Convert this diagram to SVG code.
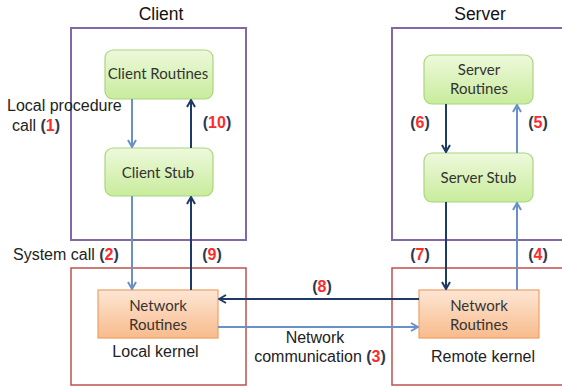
<svg xmlns="http://www.w3.org/2000/svg" width="562" height="386" viewBox="0 0 562 386">
<defs>
<linearGradient id="gGreen" x1="0" y1="0" x2="0" y2="1">
<stop offset="0" stop-color="#eef9dc"/>
<stop offset="1" stop-color="#c8ec9c"/>
</linearGradient>
<linearGradient id="gOrange" x1="0" y1="0" x2="0" y2="1">
<stop offset="0" stop-color="#fde6d4"/>
<stop offset="1" stop-color="#f8bb8c"/>
</linearGradient>
<marker id="mLight" viewBox="0 0 10 10" refX="9" refY="5" markerWidth="10" markerHeight="10" markerUnits="userSpaceOnUse" orient="auto">
<path d="M2,1 L9,5 L2,9" fill="none" stroke="#6a90c8" stroke-width="2"/>
</marker>
<marker id="mDark" viewBox="0 0 10 10" refX="9" refY="5" markerWidth="10" markerHeight="10" markerUnits="userSpaceOnUse" orient="auto">
<path d="M2,1 L9,5 L2,9" fill="none" stroke="#1f3a64" stroke-width="2"/>
</marker>
</defs>
<style>
.frame-p{fill:none;stroke:#8368a8;stroke-width:2}
.frame-r{fill:none;stroke:#c0504d;stroke-width:1.5}
.green{fill:url(#gGreen);stroke:#a8d67e;stroke-width:1.2}
.orange{fill:url(#gOrange);stroke:#eea066;stroke-width:1.2}
.ntext{font-family:Lato,"Liberation Sans",sans-serif;font-size:15px;fill:#333;text-anchor:middle}
.lbl{font-family:"Liberation Sans",Arial,sans-serif;font-size:16px;fill:#222}
.title{font-family:"Liberation Sans",Arial,sans-serif;font-size:17.5px;fill:#111;text-anchor:middle}
.p{font-weight:bold;fill:#2d3a4e}
.n{font-weight:bold;fill:#ff2a2a}
.light{stroke:#6a90c8;stroke-width:2;fill:none;marker-end:url(#mLight)}
.dark{stroke:#1f3a64;stroke-width:2;fill:none;marker-end:url(#mDark)}
</style>
<rect width="562" height="386" fill="#ffffff"/>
<g id="frames">
<rect class="frame-p" x="71" y="28" width="175" height="212"/>
<rect class="frame-p" x="392" y="28" width="180" height="212"/>
<rect class="frame-r" x="71" y="268" width="175" height="117"/>
<rect class="frame-r" x="392" y="268" width="180" height="117"/>
<text class="title" x="161" y="20">Client</text>
<text class="title" x="480" y="20">Server</text>
<text class="lbl" x="155.5" y="357" text-anchor="middle">Local kernel</text>
<text class="lbl" x="483" y="362" text-anchor="middle">Remote kernel</text>
</g>
<g id="client-routines">
<rect class="green" x="105" y="50" width="108" height="49" rx="8"/>
<text class="ntext" x="158" y="79">Client Routines</text>
</g>
<g id="client-stub">
<rect class="green" x="105" y="148" width="108" height="48" rx="8"/>
<text class="ntext" x="158" y="178">Client Stub</text>
</g>
<g id="server-routines">
<rect class="green" x="424" y="55" width="109" height="49" rx="8"/>
<text class="ntext" x="479" y="75">Server</text>
<text class="ntext" x="479" y="94">Routines</text>
</g>
<g id="server-stub">
<rect class="green" x="424" y="153" width="109" height="49" rx="8"/>
<text class="ntext" x="478.5" y="183">Server Stub</text>
</g>
<g id="local-network">
<rect class="orange" x="98" y="290" width="120" height="48"/>
<text class="ntext" x="158" y="311">Network</text>
<text class="ntext" x="158" y="330">Routines</text>
</g>
<g id="remote-network">
<rect class="orange" x="419" y="290" width="120" height="48"/>
<text class="ntext" x="479" y="311">Network</text>
<text class="ntext" x="479" y="330">Routines</text>
</g>
<g id="connectors">
<line class="light" x1="132" y1="99" x2="132" y2="147"/>
<line class="dark" x1="191" y1="148" x2="191" y2="100"/>
<line class="light" x1="132" y1="196" x2="132" y2="289"/>
<line class="dark" x1="191" y1="290" x2="191" y2="197"/>
<line class="dark" x1="419" y1="299" x2="219" y2="299"/>
<line class="light" x1="218" y1="327" x2="418" y2="327"/>
<line class="dark" x1="446" y1="104" x2="446" y2="152"/>
<line class="light" x1="517" y1="153" x2="517" y2="105"/>
<line class="dark" x1="446" y1="202" x2="446" y2="289"/>
<line class="light" x1="517" y1="290" x2="517" y2="203"/>
</g>
<g id="labels">
<text class="lbl" x="7" y="111">Local procedure</text>
<text class="lbl" x="12" y="131">call <tspan class="p">(</tspan><tspan class="n">1</tspan><tspan class="p">)</tspan></text>
<text class="lbl" x="13" y="260">System call <tspan class="p">(</tspan><tspan class="n">2</tspan><tspan class="p">)</tspan></text>
<text class="lbl" x="217" y="128" text-anchor="middle"><tspan class="p">(</tspan><tspan class="n">10</tspan><tspan class="p">)</tspan></text>
<text class="lbl" x="212" y="260" text-anchor="middle"><tspan class="p">(</tspan><tspan class="n">9</tspan><tspan class="p">)</tspan></text>
<text class="lbl" x="420" y="128" text-anchor="middle"><tspan class="p">(</tspan><tspan class="n">6</tspan><tspan class="p">)</tspan></text>
<text class="lbl" x="538" y="128" text-anchor="middle"><tspan class="p">(</tspan><tspan class="n">5</tspan><tspan class="p">)</tspan></text>
<text class="lbl" x="420" y="260" text-anchor="middle"><tspan class="p">(</tspan><tspan class="n">7</tspan><tspan class="p">)</tspan></text>
<text class="lbl" x="538" y="260" text-anchor="middle"><tspan class="p">(</tspan><tspan class="n">4</tspan><tspan class="p">)</tspan></text>
<text class="lbl" x="322" y="292" text-anchor="middle"><tspan class="p">(</tspan><tspan class="n">8</tspan><tspan class="p">)</tspan></text>
<text class="lbl" x="315" y="343" text-anchor="middle">Network</text>
<text class="lbl" x="320" y="362" text-anchor="middle">communication <tspan class="p">(</tspan><tspan class="n">3</tspan><tspan class="p">)</tspan></text>
</g>
</svg>
